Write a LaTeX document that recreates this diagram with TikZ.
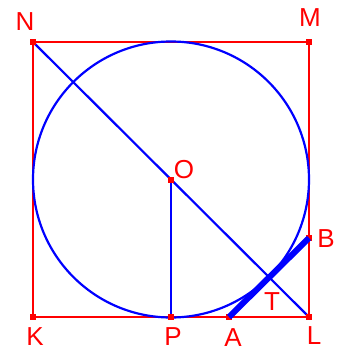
\documentclass[tikz,border=0pt]{standalone}
\usepackage{fontspec}
\setmainfont{Liberation Sans}
\begin{document}
\begin{tikzpicture}[x=1pt,y=-1pt,
  lab/.style={text=red,font=\fontsize{26}{26}\selectfont,inner sep=0pt},
  redline/.style={draw=red,line width=2.3pt},
  blueline/.style={draw=blue,line width=2.2pt},
  dotmark/.style={fill=red,minimum size=6pt,inner sep=0pt,draw=none,rectangle}]
\useasboundingbox (0,0) rectangle (342,351);
\coordinate (N) at (33,42);
\coordinate (M) at (309,42);
\coordinate (K) at (33,317);
\coordinate (L) at (309,317);
\coordinate (P) at (171,317);
\coordinate (O) at (171,179.5);
\coordinate (A) at (229,317);
\coordinate (B) at (309,238);
\draw[redline] (N) -- (M) -- (L) -- (K) -- cycle;
\draw[blueline] (O) circle (138);
\draw[blueline] (N) -- (L);
\draw[blueline] (O) -- (P);
\foreach \p in {N,M,K,L,P,O,B,A} \node[dotmark] at (\p) {};
\draw[draw=blue,line width=6pt] (A) -- (B);
\node[lab] (tN) at (25,22) {N};
\node[lab] (tM) at (310,18) {M};
\node[lab] (tK) at (35,337) {K};
\node[lab] (tP) at (173,337) {P};
\node[lab] (tA) at (233,338) {A};
\node[lab] (tL) at (314,336) {L};
\node[lab] (tB) at (326,239) {B};
\node[lab] (tT) at (272,302) {T};
\node[lab] (tO) at (184,170) {O};
\end{tikzpicture}
\end{document}
